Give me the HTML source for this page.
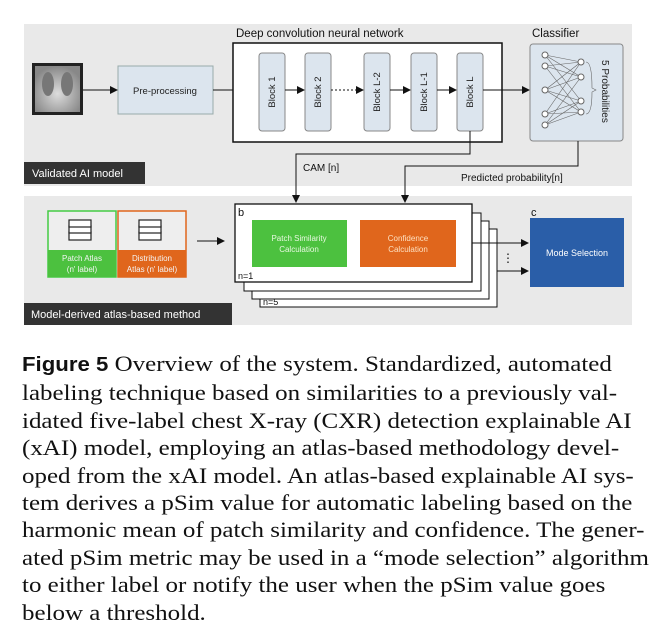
<!DOCTYPE html>
<html><head><meta charset="utf-8"><style>
html,body{margin:0;padding:0;background:#fff;width:671px;height:627px;overflow:hidden}
svg{position:absolute;left:0;top:0}
.cap{position:absolute;left:22px;top:350px;width:650px;font-family:"Liberation Serif",serif;font-size:22.5px;line-height:27.4px;color:#111;white-space:nowrap;transform:scaleX(1.11);transform-origin:0 0}
.cap b{font-family:"Liberation Sans",sans-serif;font-weight:bold;font-size:20px}
</style></head><body>
<svg width="671" height="340" viewBox="0 0 671 340" font-family="Liberation Sans, sans-serif">
<defs><marker id="a" markerWidth="8" markerHeight="8" refX="7" refY="4" orient="auto" markerUnits="userSpaceOnUse"><path d="M0,0 L8,4 L0,8z" fill="#111"/></marker>
<radialGradient id="x" cx="50%" cy="60%" r="60%"><stop offset="0" stop-color="#ddd"/><stop offset="1" stop-color="#888"/></radialGradient></defs>
<rect x="24" y="24" width="608" height="162" fill="#e9e9e9"/>
<rect x="24" y="196" width="608" height="129" fill="#e9e9e9"/>
<!-- xray -->
<rect x="32" y="63" width="51" height="52" fill="#222"/>
<rect x="35" y="66" width="45" height="46" fill="url(#x)"/>
<ellipse cx="48" cy="84" rx="6" ry="12" fill="#777"/><ellipse cx="67" cy="84" rx="6" ry="12" fill="#777"/>
<rect x="118" y="66" width="95" height="48" fill="#dce5ee" stroke="#9aa"/>
<text x="165" y="94" font-size="9.5" text-anchor="middle" fill="#222">Pre-processing</text>
<line x1="83" y1="90" x2="117" y2="90" stroke="#111" marker-end="url(#a)"/>
<line x1="213" y1="90" x2="258" y2="90" stroke="#111" marker-end="url(#a)"/>
<text x="236" y="37" font-size="11.5" fill="#111">Deep convolution neural network</text>
<rect x="233" y="43" width="269" height="99" fill="#fff" stroke="#111" stroke-width="1.5"/>
<g fill="#dce5ee" stroke="#888">
<rect x="259" y="53" width="26" height="78" rx="3"/><rect x="305" y="53" width="26" height="78" rx="3"/>
<rect x="364" y="53" width="26" height="78" rx="3"/><rect x="411" y="53" width="26" height="78" rx="3"/>
<rect x="457" y="53" width="26" height="78" rx="3"/></g>
<g font-size="9.5" fill="#222" text-anchor="middle">
<text transform="translate(275,92) rotate(-90)">Block 1</text>
<text transform="translate(321,92) rotate(-90)">Block 2</text>
<text transform="translate(380,92) rotate(-90)">Block L-2</text>
<text transform="translate(427,92) rotate(-90)">Block L-1</text>
<text transform="translate(473,92) rotate(-90)">Block L</text></g>
<line x1="285" y1="90" x2="304" y2="90" stroke="#111" marker-end="url(#a)"/>
<line x1="331" y1="90" x2="363" y2="90" stroke="#111" stroke-dasharray="2,2" marker-end="url(#a)"/>
<line x1="390" y1="90" x2="410" y2="90" stroke="#111" marker-end="url(#a)"/>
<line x1="437" y1="90" x2="456" y2="90" stroke="#111" marker-end="url(#a)"/>
<line x1="483" y1="90" x2="529" y2="90" stroke="#111" marker-end="url(#a)"/>
<text x="532" y="37" font-size="11.5" fill="#111">Classifier</text>
<rect x="530" y="44" width="93" height="97" rx="3" fill="#dce5ee" stroke="#888"/>
<g stroke="#666" stroke-width="0.6" fill="none">
<path d="M545,55 L581,62 M545,55 L581,77 M545,55 L581,101 M545,66 L581,62 M545,66 L581,77 M545,66 L581,112 M545,90 L581,62 M545,90 L581,101 M545,90 L581,112 M545,90 L581,77 M545,114 L581,62 M545,114 L581,101 M545,114 L581,112 M545,125 L581,77 M545,125 L581,112 M545,125 L581,101"/>
<path d="M586,62 Q592,62 592,88 L596,90 L592,92 Q592,114 586,114"/></g>
<g fill="#fff" stroke="#666"><circle cx="545" cy="55" r="3"/><circle cx="545" cy="66" r="3"/><circle cx="545" cy="90" r="3"/><circle cx="545" cy="114" r="3"/><circle cx="545" cy="125" r="3"/>
<circle cx="581" cy="62" r="3"/><circle cx="581" cy="77" r="3"/><circle cx="581" cy="101" r="3"/><circle cx="581" cy="112" r="3"/></g>
<text transform="translate(602,60) rotate(90)" font-size="10" fill="#222">5 Probabilities</text>
<rect x="24" y="162" width="121" height="22" fill="#333"/>
<text x="32" y="177" font-size="11" fill="#fff">Validated AI model</text>
<path d="M470,131 V154 H296 V202" stroke="#111" fill="none" marker-end="url(#a)"/>
<text x="303" y="171" font-size="10" fill="#111">CAM [n]</text>
<path d="M578,141 V166 H405 V202" stroke="#111" fill="none" marker-end="url(#a)"/>
<text x="461" y="181" font-size="10" fill="#111">Predicted probability[n]</text>
<!-- bottom -->
<rect x="48" y="211" width="68" height="66" fill="#eee" stroke="#4c4" stroke-width="1.5"/>
<rect x="48" y="250" width="68" height="27" fill="#4cc13f"/>
<rect x="118" y="211" width="68" height="66" fill="#eee" stroke="#e0661c" stroke-width="1.5"/>
<rect x="118" y="250" width="68" height="27" fill="#e0661c"/>
<g fill="#fff" stroke="#222" stroke-width="1.2">
<rect x="69" y="232" width="22" height="8"/><rect x="69" y="226" width="22" height="7"/><rect x="69" y="220" width="22" height="7"/>
<rect x="139" y="232" width="22" height="8"/><rect x="139" y="226" width="22" height="7"/><rect x="139" y="220" width="22" height="7"/></g>
<g font-size="8" fill="#f4f4f4" text-anchor="middle">
<text x="82" y="261">Patch Atlas</text><text x="82" y="272">(n' label)</text>
<text x="152" y="261">Distribution</text><text x="152" y="272">Atlas (n' label)</text></g>
<line x1="197" y1="241" x2="224" y2="241" stroke="#111" marker-end="url(#a)"/>
<rect x="260" y="229" width="237" height="78" fill="#fff" stroke="#111"/>
<rect x="252" y="221" width="237" height="78" fill="#fff" stroke="#111"/>
<rect x="244" y="213" width="237" height="78" fill="#fff" stroke="#111"/>
<rect x="235" y="204" width="237" height="78" fill="#fff" stroke="#111" stroke-width="1.3"/>
<text x="238" y="216" font-size="11" fill="#111">b</text>
<text x="238" y="279" font-size="9" fill="#111">n=1</text>
<text x="263" y="305" font-size="9" fill="#111">n=5</text>
<rect x="252" y="220" width="95" height="47" fill="#4cc13f"/>
<rect x="360" y="220" width="96" height="47" fill="#e0661c"/>
<g font-size="8" fill="#e8f8e0" text-anchor="middle"><text x="299" y="241">Patch Similarity</text><text x="299" y="252">Calculation</text></g>
<g font-size="8" fill="#fde0c0" text-anchor="middle"><text x="408" y="241">Confidence</text><text x="408" y="252">Calculation</text></g>
<line x1="472" y1="243" x2="528" y2="243" stroke="#111" marker-end="url(#a)"/>
<line x1="497" y1="271" x2="528" y2="271" stroke="#111" marker-end="url(#a)"/>
<text x="508" y="262" font-size="12" fill="#111" text-anchor="middle">⋮</text>
<text x="531" y="216" font-size="11" fill="#111">c</text>
<rect x="530" y="218" width="94" height="69" fill="#2a5ea8"/>
<text x="577" y="256" font-size="9" fill="#fff" text-anchor="middle">Mode Selection</text>
<rect x="24" y="303" width="208" height="22" fill="#333"/>
<text x="31" y="318" font-size="11" fill="#fff">Model-derived atlas-based method</text>
</svg>
<div class="cap"><b>Figure 5</b> Overview of the system. Standardized, automated<br>labeling technique based on similarities to a previously val-<br>idated five-label chest X-ray (CXR) detection explainable AI<br>(xAI) model, employing an atlas-based methodology devel-<br>oped from the xAI model. An atlas-based explainable AI sys-<br>tem derives a pSim value for automatic labeling based on the<br>harmonic mean of patch similarity and confidence. The gener-<br>ated pSim metric may be used in a “mode selection” algorithm<br>to either label or notify the user when the pSim value goes<br>below a threshold.</div>
</body></html>
